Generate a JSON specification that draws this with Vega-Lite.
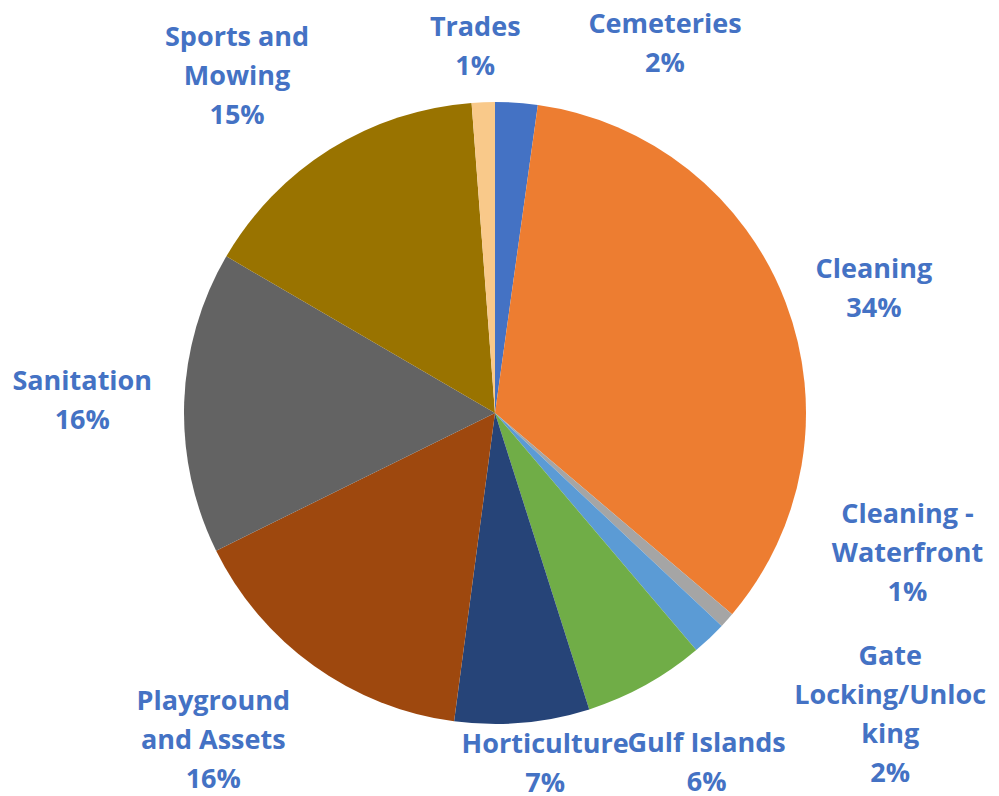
{
  "$schema": "https://vega.github.io/schema/vega-lite/v6.json",
  "autosize": "none",
  "width": 990,
  "height": 766,
  "padding": {"top": 30, "left": 0, "right": 9, "bottom": 0},
  "background": "white",
  "config": {"view": {"stroke": null}},
  "data": {"values": [
    {"cat": "Cemeteries", "value": 2.2, "order": 1, "label": "Cemeteries\n2%"},
    {"cat": "Cleaning", "value": 34.0, "order": 2, "label": "Cleaning\n34%"},
    {"cat": "Cleaning - Waterfront", "value": 0.8, "order": 3, "label": "Cleaning -\nWaterfront\n1%"},
    {"cat": "Gate Locking/Unlocking", "value": 1.8, "order": 4, "label": "Gate\nLocking/Unloc\nking\n2%"},
    {"cat": "Gulf Islands", "value": 6.3, "order": 5, "label": "Gulf Islands\n6%"},
    {"cat": "Horticulture", "value": 7.0, "order": 6, "label": "Horticulture\n7%"},
    {"cat": "Playground and Assets", "value": 15.6, "order": 7, "label": "Playground\nand Assets\n16%"},
    {"cat": "Sanitation", "value": 15.7, "order": 8, "label": "Sanitation\n16%"},
    {"cat": "Sports and Mowing", "value": 15.4, "order": 9, "label": "Sports and\nMowing\n15%"},
    {"cat": "Trades", "value": 1.2, "order": 10, "label": "Trades\n1%"}
  ]},
  "layer": [
    {
      "mark": {"type": "arc", "radius": 311},
      "encoding": {
        "theta": {"field": "value", "type": "quantitative", "stack": true},
        "order": {"field": "order", "type": "quantitative"},
        "color": {"field": "cat", "type": "nominal", "legend": null,
          "scale": {
            "domain": ["Cemeteries", "Cleaning", "Cleaning - Waterfront", "Gate Locking/Unlocking", "Gulf Islands", "Horticulture", "Playground and Assets", "Sanitation", "Sports and Mowing", "Trades"],
            "range": ["#4472C4", "#ED7D31", "#A5A5A5", "#5B9BD5", "#70AD47", "#264478", "#9E480E", "#636363", "#997300", "#F9C98A"]
          }}
      }
    },
    {"mark": {"type": "text", "radius": 365, "dx": -6, "dy": -20, "font": "Open Sans", "fontWeight": "bold", "fontSize": 27, "lineHeight": 39, "lineBreak": "\n", "color": "#4472C4", "baseline": "middle", "align": "center"},
     "encoding": {"theta": {"field": "value", "type": "quantitative", "stack": true}, "order": {"field": "order", "type": "quantitative"}, "detail": {"field": "cat"},
       "text": {"condition": {"test": "datum.cat === 'Trades'", "field": "label"}, "value": ""}}},
    {"mark": {"type": "text", "radius": 405, "dx": 142, "dy": 16, "font": "Open Sans", "fontWeight": "bold", "fontSize": 27, "lineHeight": 39, "lineBreak": "\n", "color": "#4472C4", "baseline": "middle", "align": "center"},
     "encoding": {"theta": {"field": "value", "type": "quantitative", "stack": true}, "order": {"field": "order", "type": "quantitative"}, "detail": {"field": "cat"},
       "text": {"condition": {"test": "datum.cat === 'Cemeteries'", "field": "label"}, "value": ""}}},
    {"mark": {"type": "text", "radius": 398, "dx": 7, "dy": -1, "font": "Open Sans", "fontWeight": "bold", "fontSize": 27, "lineHeight": 39, "lineBreak": "\n", "color": "#4472C4", "baseline": "middle", "align": "center"},
     "encoding": {"theta": {"field": "value", "type": "quantitative", "stack": true}, "order": {"field": "order", "type": "quantitative"}, "detail": {"field": "cat"},
       "text": {"condition": {"test": "datum.cat === 'Cleaning'", "field": "label"}, "value": ""}}},
    {"mark": {"type": "text", "radius": 435, "dx": 88, "dy": -188, "font": "Open Sans", "fontWeight": "bold", "fontSize": 27, "lineHeight": 39, "lineBreak": "\n", "color": "#4472C4", "baseline": "middle", "align": "center"},
     "encoding": {"theta": {"field": "value", "type": "quantitative", "stack": true}, "order": {"field": "order", "type": "quantitative"}, "detail": {"field": "cat"},
       "text": {"condition": {"test": "datum.cat === 'Cleaning - Waterfront'", "field": "label"}, "value": ""}}},
    {"mark": {"type": "text", "radius": 498, "dx": 52, "dy": -117, "font": "Open Sans", "fontWeight": "bold", "fontSize": 27, "lineHeight": 39, "lineBreak": "\n", "color": "#4472C4", "baseline": "middle", "align": "center"},
     "encoding": {"theta": {"field": "value", "type": "quantitative", "stack": true}, "order": {"field": "order", "type": "quantitative"}, "detail": {"field": "cat"},
       "text": {"condition": {"test": "datum.cat === 'Gate Locking/Unlocking'", "field": "label"}, "value": ""}}},
    {"mark": {"type": "text", "radius": 410, "dx": 13, "dy": -28, "font": "Open Sans", "fontWeight": "bold", "fontSize": 27, "lineHeight": 39, "lineBreak": "\n", "color": "#4472C4", "baseline": "middle", "align": "center"},
     "encoding": {"theta": {"field": "value", "type": "quantitative", "stack": true}, "order": {"field": "order", "type": "quantitative"}, "detail": {"field": "cat"},
       "text": {"condition": {"test": "datum.cat === 'Gulf Islands'", "field": "label"}, "value": ""}}},
    {"mark": {"type": "text", "radius": 355, "dx": 19, "dy": -22, "font": "Open Sans", "fontWeight": "bold", "fontSize": 27, "lineHeight": 39, "lineBreak": "\n", "color": "#4472C4", "baseline": "middle", "align": "center"},
     "encoding": {"theta": {"field": "value", "type": "quantitative", "stack": true}, "order": {"field": "order", "type": "quantitative"}, "detail": {"field": "cat"},
       "text": {"condition": {"test": "datum.cat === 'Horticulture'", "field": "label"}, "value": ""}}},
    {"mark": {"type": "text", "radius": 432, "dx": -30, "dy": -62, "font": "Open Sans", "fontWeight": "bold", "fontSize": 27, "lineHeight": 39, "lineBreak": "\n", "color": "#4472C4", "baseline": "middle", "align": "center"},
     "encoding": {"theta": {"field": "value", "type": "quantitative", "stack": true}, "order": {"field": "order", "type": "quantitative"}, "detail": {"field": "cat"},
       "text": {"condition": {"test": "datum.cat === 'Playground and Assets'", "field": "label"}, "value": ""}}},
    {"mark": {"type": "text", "radius": 413, "dx": 0, "dy": -17, "font": "Open Sans", "fontWeight": "bold", "fontSize": 27, "lineHeight": 39, "lineBreak": "\n", "color": "#4472C4", "baseline": "middle", "align": "center"},
     "encoding": {"theta": {"field": "value", "type": "quantitative", "stack": true}, "order": {"field": "order", "type": "quantitative"}, "detail": {"field": "cat"},
       "text": {"condition": {"test": "datum.cat === 'Sanitation'", "field": "label"}, "value": ""}}},
    {"mark": {"type": "text", "radius": 424, "dx": -33, "dy": -16, "font": "Open Sans", "fontWeight": "bold", "fontSize": 27, "lineHeight": 39, "lineBreak": "\n", "color": "#4472C4", "baseline": "middle", "align": "center"},
     "encoding": {"theta": {"field": "value", "type": "quantitative", "stack": true}, "order": {"field": "order", "type": "quantitative"}, "detail": {"field": "cat"},
       "text": {"condition": {"test": "datum.cat === 'Sports and Mowing'", "field": "label"}, "value": ""}}}
  ]
}
